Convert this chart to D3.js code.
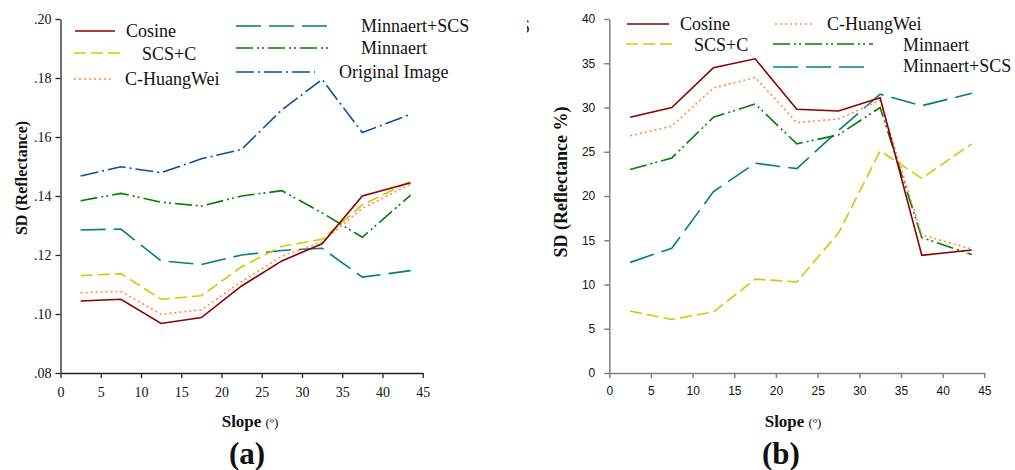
<!DOCTYPE html>
<html>
<head>
<meta charset="utf-8">
<script src="https://cdn.jsdelivr.net/npm/d3@7"></script>
<style>
  body { margin: 0; background: #fff; }
  svg { display: block; }
</style>
</head>
<body>
<svg id="chart" width="1015" height="470"></svg>
<script>
// data
const slopes = [2.5, 7.5, 12.5, 17.5, 22.5, 27.5, 32.5, 37.5, 43.5];

// (a) SD of reflectance
const cosineA       = [.1044, .1050, .0968, .0988, .1095, .1180, .1238, .1400, .1445];
const scsCA         = [.1130, .1137, .1050, .1062, .1160, .1230, .1253, .1370, .1450];
const huangWeiA     = [.1072, .1077, .0999, .1014, .1110, .1196, .1245, .1358, .1440];
const minnaertScsA  = [.1285, .1288, .1180, .1168, .1200, .1215, .1223, .1125, .1147];
const minnaertA     = [.1384, .1409, .1379, .1366, .1400, .1418, .1343, .1260, .1403];
const originalA     = [.1468, .1499, .1479, .1526, .1558, .1692, .1795, .1615, .1677];

// (b) SD of reflectance in %
const cosineB       = [28.9, 30.0, 34.5, 35.5, 29.8, 29.6, 31.1, 13.3, 13.9];
const scsCB         = [7.0, 6.05, 6.9, 10.6, 10.3, 15.8, 25.1, 22.0, 25.9];
const huangWeiB     = [26.8, 27.9, 32.2, 33.4, 28.3, 28.7, 30.8, 15.6, 14.0];
const minnaertB     = [23.0, 24.3, 28.9, 30.4, 25.9, 26.9, 30.0, 15.3, 13.4];
const minnaertScsB  = [12.5, 14.1, 20.5, 23.7, 23.1, 27.4, 31.5, 30.2, 31.6];

const xTicks  = [0, 5, 10, 15, 20, 25, 30, 35, 40, 45];
const yTicksA = [.08, .10, .12, .14, .16, .18, .20];
const yTicksB = [0, 5, 10, 15, 20, 25, 30, 35, 40];

// styles
const styles = {
  "Cosine":         { color: "#8b0000", dash: null },
  "SCS+C":          { color: "#cccc00", dash: "12,5" },
  "C-HuangWei":     { color: "#ff8c40", dash: "2,3" },
  "Minnaert+SCS":   { color: "#008080", dash: "25,8" },
  "Minnaert":       { color: "#008000", dash: "17,4,2,3,2,4" },
  "Original Image": { color: "#0b4f9a", dash: "18,4,2,4" }
};

const svg = d3.select("#chart");
const serif = "'Liberation Serif', 'Times New Roman', serif";
const sans = "'Liberation Sans', Arial, sans-serif";

function drawLines(g, x, y, series) {
  const line = d3.line().x((d, i) => x(slopes[i])).y(d => y(d));
  series.forEach(s => {
    g.append("path")
      .datum(s.values)
      .attr("fill", "none")
      .attr("stroke", styles[s.name].color)
      .attr("stroke-width", 1.6)
      .attr("stroke-dasharray", styles[s.name].dash)
      .attr("d", line);
  });
}

function drawLegend(g, items) {
  items.forEach(it => {
    const st = styles[it.name];
    g.append("line")
      .attr("x1", it.x1).attr("x2", it.x2)
      .attr("y1", it.y).attr("y2", it.y)
      .attr("stroke", st.color)
      .attr("stroke-width", 1.6)
      .attr("stroke-dasharray", st.dash);
    g.append("text")
      .attr("x", it.tx).attr("y", it.ty)
      .attr("font-family", serif)
      .attr("font-size", 18)
      .attr("fill", "#111")
      .text(it.name);
  });
}

// ---------- chart (a) ----------
const xA = d3.scaleLinear().domain([0, 45]).range([60.5, 422.7]);
const yA = d3.scaleLinear().domain([.08, .20]).range([373, 19]);

const gA = svg.append("g");

gA.append("g")
  .attr("transform", "translate(0,373)")
  .call(d3.axisBottom(xA).tickValues(xTicks).tickSize(5).tickSizeOuter(0).tickPadding(9))
  .call(g => g.selectAll("path, line").attr("stroke", "#222").attr("stroke-width", 1.3))
  .call(g => g.selectAll("text").attr("font-family", serif).attr("font-size", 14).attr("fill", "#111"));

gA.append("g")
  .attr("transform", "translate(60.5,0)")
  .call(d3.axisLeft(yA).tickValues(yTicksA).tickSize(5).tickSizeOuter(0).tickPadding(4)
    .tickFormat(d => d3.format(".2f")(d).replace(/^0/, "")))
  .call(g => g.selectAll("path, line").attr("stroke", "#222").attr("stroke-width", 1.3))
  .call(g => g.selectAll("text").attr("font-family", serif).attr("font-size", 14).attr("fill", "#111"));

drawLines(gA, xA, yA, [
  { name: "Original Image", values: originalA },
  { name: "Minnaert", values: minnaertA },
  { name: "Minnaert+SCS", values: minnaertScsA },
  { name: "SCS+C", values: scsCA },
  { name: "C-HuangWei", values: huangWeiA },
  { name: "Cosine", values: cosineA }
]);

drawLegend(gA, [
  { name: "Cosine",         x1: 75,  x2: 115, y: 31, tx: 126, ty: 37 },
  { name: "SCS+C",          x1: 74,  x2: 123, y: 53, tx: 142, ty: 60 },
  { name: "C-HuangWei",     x1: 74,  x2: 113, y: 79, tx: 125, ty: 85 },
  { name: "Minnaert+SCS",   x1: 236, x2: 328, y: 26, tx: 361, ty: 32 },
  { name: "Minnaert",       x1: 236, x2: 332, y: 48, tx: 361, ty: 54 },
  { name: "Original Image", x1: 236, x2: 315, y: 72, tx: 339, ty: 78 }
]);

// clipped stray glyph at the right edge of panel (a)
svg.append("clipPath").attr("id", "stray")
  .append("rect").attr("x", 527).attr("y", 15).attr("width", 6).attr("height", 25);
svg.append("text")
  .attr("clip-path", "url(#stray)")
  .attr("x", 520).attr("y", 33)
  .attr("font-family", serif).attr("font-size", 18).attr("fill", "#111")
  .text("S");

gA.append("text")
  .attr("transform", "translate(27,178) rotate(-90)")
  .attr("text-anchor", "middle")
  .attr("font-family", serif).attr("font-weight", "bold").attr("font-size", 16)
  .attr("fill", "#111")
  .text("SD (Reflectance)");

const slopeA = gA.append("text")
  .attr("x", 250).attr("y", 427)
  .attr("text-anchor", "middle")
  .attr("font-family", serif).attr("fill", "#111");
slopeA.append("tspan").attr("font-weight", "bold").attr("font-size", 17).text("Slope ");
slopeA.append("tspan").attr("font-size", 13).text("(º)");

gA.append("text")
  .attr("x", 247).attr("y", 464)
  .attr("text-anchor", "middle")
  .attr("font-family", serif).attr("font-weight", "bold").attr("font-size", 31)
  .attr("fill", "#111")
  .text("(a)");

// ---------- chart (b) ----------
const xB = d3.scaleLinear().domain([0, 45]).range([609.3, 984.3]);
const yB = d3.scaleLinear().domain([0, 40]).range([373, 19]);

const gB = svg.append("g");

gB.append("g")
  .attr("transform", "translate(0,373)")
  .call(d3.axisBottom(xB).tickValues(xTicks).tickSize(5).tickSizeOuter(0).tickPadding(8))
  .call(g => g.selectAll("path, line").attr("stroke", "#808080").attr("stroke-width", 1.5))
  .call(g => g.selectAll("text").attr("font-family", sans).attr("font-size", 12).attr("fill", "#111"));

gB.append("g")
  .attr("transform", "translate(609.3,0)")
  .call(d3.axisLeft(yB).tickValues(yTicksB).tickSize(5).tickSizeOuter(0).tickPadding(9))
  .call(g => g.selectAll("path, line").attr("stroke", "#808080").attr("stroke-width", 1.5))
  .call(g => g.selectAll("text").attr("font-family", sans).attr("font-size", 12).attr("fill", "#111"));

drawLines(gB, xB, yB, [
  { name: "SCS+C", values: scsCB },
  { name: "Minnaert+SCS", values: minnaertScsB },
  { name: "Minnaert", values: minnaertB },
  { name: "C-HuangWei", values: huangWeiB },
  { name: "Cosine", values: cosineB }
]);

drawLegend(gB, [
  { name: "Cosine",       x1: 627, x2: 669, y: 24, tx: 680, ty: 30 },
  { name: "SCS+C",        x1: 626, x2: 677, y: 44, tx: 694, ty: 51 },
  { name: "C-HuangWei",   x1: 775, x2: 813, y: 24, tx: 827, ty: 30 },
  { name: "Minnaert",     x1: 773, x2: 873, y: 44, tx: 903, ty: 51 },
  { name: "Minnaert+SCS", x1: 773, x2: 870, y: 67, tx: 903, ty: 72 }
]);

gB.append("text")
  .attr("transform", "translate(567,182) rotate(-90)")
  .attr("text-anchor", "middle")
  .attr("font-family", serif).attr("font-weight", "bold").attr("font-size", 18)
  .attr("fill", "#111")
  .text("SD (Reflectance %)");

const slopeB = gB.append("text")
  .attr("x", 793).attr("y", 427)
  .attr("text-anchor", "middle")
  .attr("font-family", serif).attr("fill", "#111");
slopeB.append("tspan").attr("font-weight", "bold").attr("font-size", 17).text("Slope ");
slopeB.append("tspan").attr("font-size", 13).text("(º)");

gB.append("text")
  .attr("x", 781).attr("y", 464)
  .attr("text-anchor", "middle")
  .attr("font-family", serif).attr("font-weight", "bold").attr("font-size", 31)
  .attr("fill", "#111")
  .text("(b)");
</script>
</body>
</html>
